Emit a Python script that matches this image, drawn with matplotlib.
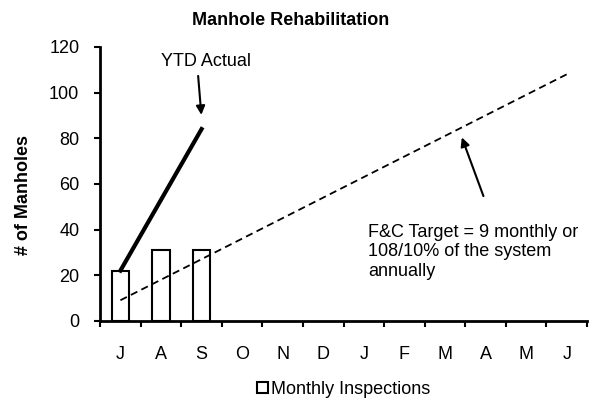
import matplotlib.pyplot as plt
import numpy as np

plt.rcParams['font.family'] = ['Liberation Sans', 'DejaVu Sans']

# Données
mois = ["J", "A", "S", "O", "N", "D", "J", "F", "M", "A", "M", "J"]
inspections = [22, 31, 31]
ytd_actuel = [22, 84]
ytd_mois = [0, 2]
objectif = [9, 18, 27, 36, 45, 54, 63, 72, 81, 90, 99, 108]

fs = 13

fig = plt.figure(figsize=(5.96, 4.01), dpi=100)
ax = fig.add_axes([0.168, 0.2, 0.817, 0.683])

x = np.arange(len(mois))
ax.bar(x[:len(inspections)], inspections, width=0.42, color='white',
       edgecolor='black', linewidth=1.5, label='Monthly Inspections', zorder=2)
ax.plot(ytd_mois, ytd_actuel, color='black', linewidth=3, zorder=3)
ax.plot(x, objectif, color='black', linewidth=1.3, linestyle=(0, (4, 2.5)), zorder=3)

# Annotations avec flèches
ax.annotate('', xy=(2.0, 89), xytext=(1.91, 108.5),
            arrowprops=dict(arrowstyle='-|>', color='black', lw=1.5, mutation_scale=13))
ax.text(2.10, 113.4, 'YTD Actual', ha='center', va='center', fontsize=fs)
ax.annotate('', xy=(8.39, 81.5), xytext=(8.97, 53.5),
            arrowprops=dict(arrowstyle='-|>', color='black', lw=1.5, mutation_scale=13))
ax.text(6.10, 30.2, 'F&C Target = 9 monthly or\n108/10% of the system\nannually',
        ha='left', va='center', fontsize=fs, linespacing=1.2)

ax.set_xlim(-0.5, 11.5)
ax.set_ylim(0, 120)
ax.set_yticks(range(0, 121, 20))
ax.set_xticks(x)
ax.set_xticklabels(mois, fontsize=fs)
ax.set_xticks(np.arange(-0.5, 12, 1), minor=True)
ax.tick_params(axis='x', which='major', length=0, pad=18)
ax.tick_params(axis='x', which='minor', length=4, width=1.5, direction='out')
ax.tick_params(axis='y', length=4, width=1.5, labelsize=fs, pad=11)
for s in ['top', 'right']:
    ax.spines[s].set_visible(False)
for s in ['left', 'bottom']:
    ax.spines[s].set_linewidth(2)

ax.set_ylabel('# of Manholes', fontsize=fs, fontweight='bold')
ax.yaxis.set_label_coords(-0.139, 0.46)
fig.text(0.487, 0.948, 'Manhole Rehabilitation', ha='center', va='center',
         fontsize=fs, fontweight='bold')

ax.legend(loc='center', bbox_to_anchor=(0.5, -0.25), frameon=False,
          fontsize=fs, handlelength=0.6, handleheight=0.6, handletextpad=0.2)

fig.savefig('out.png', dpi=100)
